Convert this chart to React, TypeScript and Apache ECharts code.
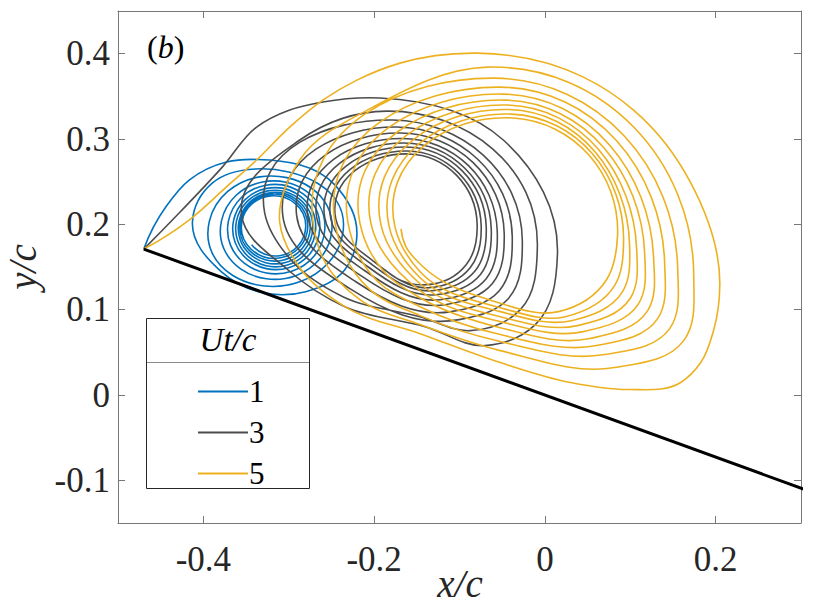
import React, { useEffect, useRef } from "react";
import * as echarts from "echarts";

// Ut/c = 1 (blue) – vortex sheet, from the leading edge spiralling inward
const sheet1: number[][] = [
  [-0.4698, 0.1710], [-0.4437, 0.2208], [-0.4163, 0.2521], [-0.3729, 0.2731],
  [-0.3365, 0.2760], [-0.2460, 0.2462], [-0.2202, 0.1865], [-0.2343, 0.1468],
  [-0.2801, 0.1211], [-0.3788, 0.1444], [-0.4128, 0.2029], [-0.3893, 0.2485],
  [-0.3388, 0.2649], [-0.2366, 0.1901], [-0.2871, 0.1327], [-0.3929, 0.2041],
  [-0.3341, 0.2556], [-0.2496, 0.1924], [-0.2918, 0.1398], [-0.3788, 0.2041],
  [-0.3306, 0.2497], [-0.2578, 0.1936], [-0.2965, 0.1450], [-0.3706, 0.2041],
  [-0.3282, 0.2456], [-0.2637, 0.1947], [-0.3001, 0.1491], [-0.3647, 0.2041],
  [-0.3259, 0.2421], [-0.2684, 0.1953], [-0.3024, 0.1520], [-0.3612, 0.2041],
  [-0.3247, 0.2392], [-0.2719, 0.1959], [-0.3048, 0.1550], [-0.3582, 0.2041],
  [-0.3235, 0.2368], [-0.2748, 0.1965], [-0.3071, 0.1579], [-0.3564, 0.2041],
  [-0.3224, 0.2351], [-0.2777, 0.1971], [-0.3095, 0.1608], [-0.3547, 0.2041],
  [-0.3212, 0.2333], [-0.2801, 0.1977], [-0.3106, 0.1632], [-0.3435, 0.1760],
];

// Ut/c = 3 (grey)
const sheet3: number[][] = [
  [-0.4698, 0.1710], [-0.4281, 0.2135], [-0.3776, 0.2673], [-0.3376, 0.3140],
  [-0.2989, 0.3339], [-0.2601, 0.3433], [-0.1932, 0.3480], [-0.0487, 0.2988],
  [0.0147, 0.1643], [-0.0112, 0.0825], [-0.0699, 0.0579], [-0.1403, 0.0801],
  [-0.2343, 0.1035], [-0.3012, 0.1468], [-0.3553, 0.2111], [-0.2871, 0.2988],
  [-0.1850, 0.3327], [-0.0088, 0.1737], [-0.0288, 0.1000], [-0.0875, 0.0754],
  [-0.1462, 0.0918], [-0.2366, 0.1152], [-0.2954, 0.1561], [-0.3282, 0.2135],
  [-0.1779, 0.3222], [-0.0264, 0.1807], [-0.0429, 0.1129], [-0.1004, 0.0883],
  [-0.2284, 0.1246], [-0.3071, 0.2111],
  [-0.1732, 0.3140], [-0.0382, 0.1854], [-0.0534, 0.1222], [-0.1098, 0.0977],
  [-0.2214, 0.1327], [-0.2907, 0.2099],
  [-0.1697, 0.3070], [-0.0476, 0.1889], [-0.0617, 0.1304], [-0.1169, 0.1058],
  [-0.2155, 0.1398], [-0.2777, 0.2088],
  [-0.1674, 0.3006], [-0.0558, 0.1924], [-0.0687, 0.1363], [-0.1227, 0.1117],
  [-0.2108, 0.1456], [-0.2672, 0.2076],
  [-0.1650, 0.2953], [-0.0628, 0.1947], [-0.0757, 0.1409], [-0.1274, 0.1175],
  [-0.2073, 0.1503], [-0.2578, 0.2076],
  [-0.1627, 0.2906], [-0.0687, 0.1971], [-0.0816, 0.1456], [-0.1321, 0.1222],
  [-0.2037, 0.1538], [-0.2507, 0.2064],
  [-0.1615, 0.2860], [-0.0746, 0.1982], [-0.0875, 0.1491], [-0.1356, 0.1257],
  [-0.2014, 0.1573], [-0.2449, 0.2064],
  [-0.1603, 0.2825], [-0.0793, 0.1994], [-0.0922, 0.1526], [-0.1392, 0.1292],
  [-0.1873, 0.1468],
];

// Ut/c = 5 (yellow)
const sheet5: number[][] = [
  [-0.4698, 0.1710], [-0.4163, 0.2053], [-0.3729, 0.2439], [-0.3376, 0.2754],
  [-0.2989, 0.3140], [-0.2601, 0.3456], [-0.2202, 0.3690], [-0.1697, 0.3889],
  [-0.0793, 0.4006], [0.0452, 0.3725], [0.1039, 0.3339], [0.1709, 0.2485],
  [0.2049, 0.1292], [0.1979, 0.0766], [0.1826, 0.0380], [0.1591, 0.0146],
  [0.0981, 0.0064], [0.0299, 0.0146], [-0.0523, 0.0380], [-0.1462, 0.0719],
  [-0.2343, 0.1035], [-0.2871, 0.1491], [-0.3106, 0.2029], [-0.2871, 0.2754],
  [-0.2014, 0.3374],
  [-0.0675, 0.3842], [0.1744, 0.1386], [0.1626, 0.0637], [0.0816, 0.0322],
  [-0.0523, 0.0520], [-0.1462, 0.0825], [-0.2167, 0.1117], [-0.2578, 0.1561],
  [-0.2719, 0.2053],
  [-0.0581, 0.3713], [0.1556, 0.1468], [0.1462, 0.0778], [0.0699, 0.0474],
  [-0.0523, 0.0626], [-0.1462, 0.0930], [-0.2049, 0.1234], [-0.2460, 0.2029],
  [-0.0523, 0.3608], [0.1403, 0.1538], [0.1321, 0.0895], [0.0605, 0.0579],
  [-0.0523, 0.0708], [-0.1462, 0.1035], [-0.1955, 0.1327], [-0.2308, 0.2029],
  [-0.0487, 0.3526], [0.1274, 0.1596], [0.1204, 0.0988], [0.0523, 0.0661],
  [-0.0523, 0.0789], [-0.1462, 0.1140], [-0.1873, 0.1433], [-0.2167, 0.2018],
  [-0.0464, 0.3456], [0.1169, 0.1655], [0.1098, 0.1070], [0.0452, 0.0743],
  [-0.0523, 0.0860], [-0.1462, 0.1222], [-0.2037, 0.2006],
  [-0.0440, 0.3398], [0.1075, 0.1713], [0.1004, 0.1140], [0.0382, 0.0813],
  [-0.0523, 0.0918], [-0.1462, 0.1304], [-0.1920, 0.1994],
  [-0.0417, 0.3345], [0.0992, 0.1760], [0.0910, 0.1211], [0.0311, 0.0871],
  [-0.0523, 0.0977], [-0.1462, 0.1374], [-0.1826, 0.1982],
  [-0.0393, 0.3292], [0.0922, 0.1807], [0.0816, 0.1281], [0.0241, 0.0918],
  [-0.0523, 0.1023], [-0.1462, 0.1444], [-0.1756, 0.1971],
  [-0.0370, 0.3246], [0.0851, 0.1865], [0.0722, 0.1351], [0.0159, 0.0977],
  [-0.0581, 0.1094], [-0.1427, 0.1503], [-0.1627, 0.1737], [-0.1685, 0.1947],
];

// flat plate (chord c, 20 deg incidence), leading edge to trailing edge
const plate: number[][] = [
  [-0.4698, 0.1710],
  [0.4698, -0.1710],
];

const legendNames = ["1", "3", "5"];
const colors = ["#0072BD", "#4D4D4D", "#EDB120"];
const xRange = [-0.5, 0.3];
const yRange = [-0.15, 0.45];

const FONT = "'Liberation Serif', 'Times New Roman', 'DejaVu Serif', serif";
const AXIS = "#777777";

// Smooth curve through projected points: at each point the tangent of the
// circle through it and its two neighbours, arcs matched with cubic Béziers.
function smoothPath(P: number[][]): string {
  const n = P.length;
  const sub = (a: number[], b: number[]) => [a[0] - b[0], a[1] - b[1]];
  const norm = (v: number[]) => {
    const l = Math.hypot(v[0], v[1]) || 1;
    return [v[0] / l, v[1] / l];
  };
  const ang = (u: number[], v: number[]) => {
    const a = norm(u), b = norm(v);
    return Math.acos(Math.max(-1, Math.min(1, a[0] * b[0] + a[1] * b[1])));
  };
  const rot = (v: number[], t: number) => [
    v[0] * Math.cos(t) - v[1] * Math.sin(t),
    v[0] * Math.sin(t) + v[1] * Math.cos(t),
  ];
  const T: number[][] = [];
  for (let i = 0; i < n; i++) {
    if (n < 3) {
      T.push(norm(sub(P[Math.min(i + 1, n - 1)], P[Math.max(i - 1, 0)])));
      continue;
    }
    const j = Math.min(Math.max(i, 1), n - 2);
    const p0 = P[j - 1], p1 = P[j], p2 = P[j + 1];
    const a = norm(sub(p1, p0));
    const b = norm(sub(p2, p1));
    const cr = a[0] * b[1] - a[1] * b[0];
    const sg = cr >= 0 ? 1 : -1;
    const g0 = ang(sub(p1, p0), sub(p2, p0));
    const g2 = ang(sub(p1, p2), sub(p0, p2));
    if (i === j) T.push(rot(a, sg * g2));
    else if (i < j) T.push(rot(a, -sg * g2));
    else T.push(rot(b, sg * g0));
  }
  let d = `M${P[0][0].toFixed(2)},${P[0][1].toFixed(2)}`;
  for (let i = 0; i < n - 1; i++) {
    const p = P[i], q = P[i + 1];
    const c = Math.hypot(q[0] - p[0], q[1] - p[1]);
    let phi = ang(T[i], T[i + 1]);
    phi = Math.min(phi, 2.6);
    const k = phi < 1e-3 ? 1 / 3 : ((2 / 3) * Math.tan(phi / 4)) / Math.sin(phi / 2);
    const a = [p[0] + T[i][0] * c * k, p[1] + T[i][1] * c * k];
    const b = [q[0] - T[i + 1][0] * c * k, q[1] - T[i + 1][1] * c * k];
    d += `C${a[0].toFixed(2)},${a[1].toFixed(2)} ${b[0].toFixed(2)},${b[1].toFixed(2)} ${q[0].toFixed(2)},${q[1].toFixed(2)}`;
  }
  return d;
}

export default function App() {
  const ref = useRef<HTMLDivElement>(null);
  useEffect(() => {
    if (!ref.current) return;
    const chart = echarts.init(ref.current, undefined, { renderer: "svg" });

    const isMult = (v: number, step: number) =>
      Math.abs(v / step - Math.round(v / step)) < 1e-6;
    const fmt = (v: number) => (Math.abs(v) < 1e-9 ? "0" : String(Math.round(v * 10) / 10));

    const baseAxis = (min: number, max: number, split: number) => ({
      type: "value" as const,
      min,
      max,
      splitNumber: split,
      axisLine: { show: true, onZero: false, lineStyle: { color: AXIS, width: 1 } },
      axisTick: { show: true, inside: true, length: 7, lineStyle: { color: AXIS, width: 1 } },
      splitLine: { show: false },
    });

    const nameStyle = {
      fontSize: 39,
      lineHeight: 40,
      fontStyle: "italic",
      fontFamily: FONT,
      color: "#262626",
    };

    const curveSeries = (name: string, pts: number[][], color: string) => ({
      type: "custom",
      name,
      coordinateSystem: "cartesian2d",
      xAxisIndex: 0,
      yAxisIndex: 0,
      data: pts,
      encode: { x: 0, y: 1 },
      clip: true,
      z: 2,
      itemStyle: { color },
      silent: true,
      renderItem: (params: any, api: any) => {
        if (params.dataIndex !== 0) return null;
        const P = pts.map((p) => api.coord(p));
        return {
          type: "path",
          shape: { pathData: smoothPath(P) },
          style: { stroke: color, fill: "none", lineWidth: 1.6 },
        };
      },
    });

    chart.setOption({
      animation: false,
      backgroundColor: "#ffffff",
      grid: {
        left: 118,
        top: 11,
        width: 683,
        height: 512,
        containLabel: false,
        outerBoundsMode: "none",
      },
      title: {
        text: "{p|(}{i|b}{p|)}",
        left: 142,
        top: 26,
        textStyle: {
          fontWeight: "normal",
          rich: {
            p: { fontSize: 32, fontFamily: FONT, fontWeight: "normal", color: "#000" },
            i: { fontSize: 32, fontFamily: FONT, fontStyle: "italic", fontWeight: "normal", color: "#000" },
          },
        },
      },
      legend: {
        data: legendNames,
        orient: "vertical",
        left: 193,
        top: 371,
        itemWidth: 50,
        itemHeight: 2,
        itemGap: 10,
        icon: "rect",
        selectedMode: false,
        textStyle: { fontSize: 31, fontFamily: FONT, color: "#000", lineHeight: 30, padding: [0, 0, 0, -4] },
      },
      xAxis: [
        {
          ...baseAxis(xRange[0], xRange[1], 4),
          position: "bottom",
          axisLabel: {
            show: true,
            margin: 19,
            fontSize: 35,
            fontFamily: FONT,
            color: "#262626",
            showMinLabel: false,
            showMaxLabel: false,
            formatter: (v: number) => (isMult(v, 0.2) ? fmt(v) : ""),
          },
        },
        {
          ...baseAxis(xRange[0], xRange[1], 4),
          position: "top",
          axisLabel: { show: false },
        },
      ],
      yAxis: [
        {
          ...baseAxis(yRange[0], yRange[1], 6),
          position: "left",
          axisLabel: {
            show: true,
            margin: 8,
            fontSize: 35,
            fontFamily: FONT,
            color: "#262626",
            showMinLabel: false,
            showMaxLabel: false,
            formatter: (v: number) => (isMult(v, 0.1) ? fmt(v) : ""),
          },
          name: "y/c",
          nameLocation: "middle",
          nameGap: 76,
          nameTextStyle: nameStyle,
        },
        {
          ...baseAxis(yRange[0], yRange[1], 6),
          position: "right",
          axisLabel: { show: false },
        },
      ],
      graphic: [
        {
          type: "text",
          z: 3,
          style: {
            text: "x/c",
            x: 460,
            y: 583,
            fontSize: 39,
            fontStyle: "italic",
            fontFamily: FONT,
            fill: "#262626",
            align: "center",
            verticalAlign: "middle",
            textAlign: "center",
            textVerticalAlign: "middle",
          },
        },
        {
          type: "rect",
          z: 1,
          shape: { x: 146.5, y: 318.5, width: 163, height: 170 },
          style: { fill: "#ffffff", stroke: "#262626", lineWidth: 1 },
        },
        {
          type: "line",
          z: 1,
          shape: { x1: 147, y1: 362.5, x2: 309, y2: 362.5 },
          style: { stroke: "#8c8c8c", lineWidth: 1 },
        },
        {
          type: "text",
          z: 2,
          style: {
            text: "Ut/c",
            x: 228,
            y: 340,
            fontSize: 33,
            fontStyle: "italic",
            fontFamily: FONT,
            fill: "#000",
            align: "center",
            verticalAlign: "middle",
            textAlign: "center",
            textVerticalAlign: "middle",
          },
        },
      ],
      series: [
        curveSeries(legendNames[0], sheet1, colors[0]),
        curveSeries(legendNames[1], sheet3, colors[1]),
        curveSeries(legendNames[2], sheet5, colors[2]),
        {
          type: "line",
          name: "plate",
          data: plate,
          symbol: "none",
          showSymbol: false,
          lineStyle: { color: "#000000", width: 3 },
          emphasis: { disabled: true },
          silent: true,
          z: 3,
        },
      ],
    });

    return () => chart.dispose();
  }, []);

  return (
    <div
      ref={ref}
      style={{ position: "absolute", left: 0, top: 0, width: 822, height: 608, background: "#fff" }}
    />
  );
}
